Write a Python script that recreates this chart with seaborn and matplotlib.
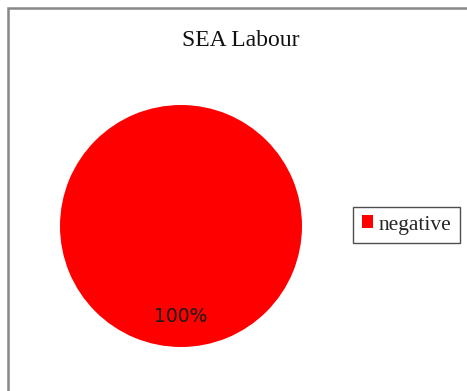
import matplotlib
matplotlib.use("Agg")
import matplotlib.pyplot as plt
import seaborn as sns
from matplotlib.patches import Rectangle

categories = ["negative"]
values = [100]
colors = ["#ff0000"]
title = "SEA Labour"

sns.set_theme(style="white")
plt.rcParams['font.family'] = ['DejaVu Sans']

W, H = 467, 391
fig = plt.figure(figsize=(W / 100, H / 100), dpi=100)
fig.patch.set_facecolor("white")

# figure border
fig.add_artist(Rectangle((8 / W, -0.05), 1.05, 1 - 8 / H + 0.05, transform=fig.transFigure,
                         fill=False, edgecolor="#888888", linewidth=1.8))

cx, cy, r = 181, 226, 121
ax = fig.add_axes([(cx - r) / W, (H - cy - r) / H, 2 * r / W, 2 * r / H])
wedges, texts, autotexts = ax.pie(values, colors=colors, startangle=90, counterclock=False,
                                  autopct="%1.0f%%", pctdistance=0.75, radius=1,
                                  wedgeprops=dict(linewidth=0),
                                  textprops=dict(fontsize=13.5, color="#1a1a1a", family="DejaVu Sans"))
ax.set_xlim(-1, 1)
ax.set_ylim(-1, 1)
ax.set_aspect("equal")
ax.axis("off")

fig.text(241 / W, 1 - 40 / H, title, ha="center", va="center",
         fontsize=17, family="Liberation Serif", color="#111111")

leg = fig.legend(wedges, categories, loc="center left",
                 bbox_to_anchor=(353 / W, 1 - 225 / H), bbox_transform=fig.transFigure,
                 frameon=True, fancybox=False, shadow=False, handlelength=0.55, handleheight=0.55,
                 handletextpad=0.25, borderpad=0.4, borderaxespad=0,
                 prop=dict(family="Liberation Serif", size=15.5))
leg.get_frame().set_edgecolor("#222222")
leg.get_frame().set_linewidth(1.0)

fig.savefig("out.png", dpi=100, facecolor="white")
